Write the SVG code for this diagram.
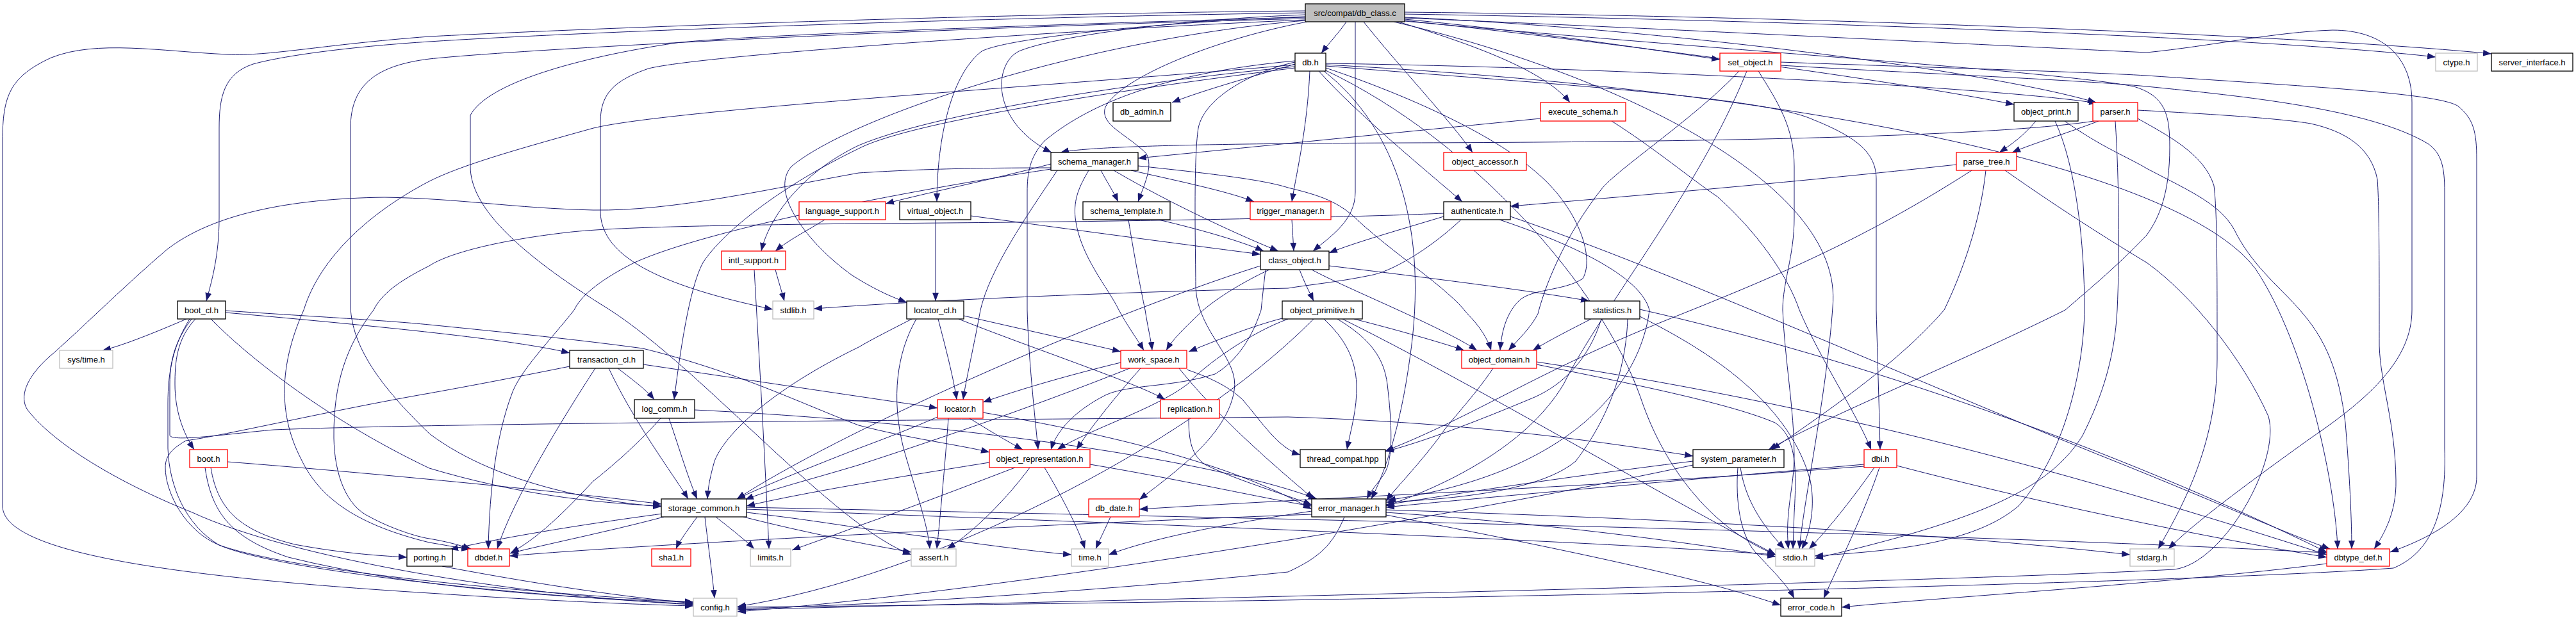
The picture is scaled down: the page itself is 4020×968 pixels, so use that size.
<svg xmlns="http://www.w3.org/2000/svg" width="4020" height="968" viewBox="0 0 4020 968">
<style>
.e path{fill:none;stroke:#191970;stroke-width:1;marker-end:url(#ah)}
.n rect{fill:#fff;stroke:#000;stroke-width:1.3}
.n.red rect{stroke:#ff0000}
.n.gry rect{stroke:#bfbfbf}
.n.root rect{fill:#bfbfbf}
.n text{font-family:"Liberation Sans",Arial,sans-serif;font-size:13px;text-anchor:middle;fill:#000}
</style>
<defs>
<marker id="ah" viewBox="0 0 10 10" refX="10" refY="5" markerUnits="userSpaceOnUse" markerWidth="13" markerHeight="10" orient="auto" preserveAspectRatio="none"><path d="M0,0L10,5L0,10z" fill="#191970"/></marker>
</defs>
<rect width="4020" height="968" fill="#fff"/>
<g id="edges" class="e">
<path d="M2101,34 C2092,48 2075,66 2062,83"/>
<path d="M2192,30 C2400,50 2580,78 2684,93"/>
<path d="M2192,22 C2700,30 3500,55 3801,89"/>
<path d="M2192,19 C2800,25 3600,55 3888,84"/>
<path d="M2182,34 C2300,70 2410,110 2450,160"/>
<path d="M2192,32 C2550,70 2950,125 3143,163"/>
<path d="M2192,27 C2600,45 3100,110 3271,160"/>
<path d="M2128,34 C2180,100 2265,190 2298,238"/>
<path d="M2115,34 L2115,300 C2115,345 2075,370 2049,392"/>
<path d="M2037,23 C1850,30 1650,55 1590,80 C1550,100 1545,190 1641,238"/>
<path d="M2040,34 C1900,60 1750,120 1725,167 C1715,195 1760,210 1789,240 C1800,260 1785,290 1776,315"/>
<path d="M2037,26 C1800,35 1570,60 1532,80 C1480,120 1462,230 1462,315"/>
<path d="M2037,20 C1500,28 900,50 670,65 C560,72 450,85 395,100 C350,115 342,150 342,200 L342,340 C342,400 330,440 322,470"/>
<path d="M2037,17 C1500,22 900,45 670,57 C500,70 420,88 355,85 C250,80 150,62 80,90 C15,120 4,150 4,220 L4,790 C4,860 250,900 670,926 C850,938 1000,944 1082,946"/>
<path d="M2037,29 C1400,45 800,78 670,92 C590,102 547,130 547,200 L547,480 C550,540 590,600 670,677 C780,760 950,785 1032,791"/>
<path d="M2037,31 C1700,45 1100,85 1012,107 C960,125 937,145 937,190 L937,333 C940,390 1000,440 1206,483"/>
<path d="M2037,27 C1700,36 1150,55 1055,67 C900,90 760,130 734,180 L734,260 C734,320 800,390 952,484 C1100,580 1300,820 1422,866"/>
<path d="M2192,28 C2600,45 3100,70 3350,82 C3450,72 3550,50 3640,47 C3720,47 3764,90 3764,160 L3764,484 C3764,560 3700,620 3606,684 C3500,760 3420,820 3384,857"/>
<path d="M2175,34 C2500,110 2880,280 2860,480 C2850,620 2815,780 2808,857"/>
<path d="M2192,33 C2700,80 3200,110 3330,135 C3380,150 3386,180 3386,230 C3386,300 3370,340 3350,367 C3300,420 3250,460 3223,484 C3050,570 2850,650 2760,702"/>
<path d="M2037,32 C1700,60 1330,180 1235,260 C1200,300 1260,380 1330,430 C1370,455 1395,465 1415,472"/>
<path d="M2021,100 C1960,118 1880,140 1829,160"/>
<path d="M2069,99 C2500,105 3100,135 3273,161"/>
<path d="M2044,111 C2040,200 2025,260 2016,315"/>
<path d="M2058,111 C2120,180 2230,270 2282,315"/>
<path d="M2021,104 C1750,130 1450,180 1340,227 C1250,270 1200,340 1188,392"/>
<path d="M2021,106 C1750,140 1420,190 1340,232 C1220,290 1130,360 1097,410 C1075,450 1060,560 1052,624"/>
<path d="M2021,95 C1800,115 1690,170 1630,220 C1607,245 1603,270 1603,300 L1603,484 C1605,560 1615,650 1620,702"/>
<path d="M2069,106 C2200,150 2330,210 2395,267 C2460,320 2490,400 2470,435 C2440,455 2390,450 2370,470 C2350,490 2343,520 2341,547"/>
<path d="M2069,103 C2400,130 2750,150 2830,187 C2900,215 2928,240 2928,280 L2928,484 C2930,560 2933,650 2934,702"/>
<path d="M2021,97 C1960,110 1880,150 1870,200 C1862,250 1866,400 1866,450 C1870,520 1935,560 1926,610 C1915,680 1830,740 1778,780"/>
<path d="M2066,111 C2180,200 2230,360 2200,560 C2185,670 2160,740 2140,779"/>
<path d="M2021,101 C1700,130 1050,170 926,200 C800,235 720,258 670,283 C580,330 500,400 474,484 C440,560 430,640 470,717 C500,780 560,820 670,847 C700,852 715,855 733,858"/>
<path d="M2069,110 C2300,220 2500,450 2560,620 C2600,740 2680,830 2771,866"/>
<path d="M2069,101 C2800,140 3400,260 3520,420 C3600,540 3645,760 3648,857"/>
<path d="M2714,111 C2650,180 2530,260 2501,293 C2440,370 2410,450 2400,490 C2390,510 2370,530 2354,547"/>
<path d="M2726,111 C2650,300 2500,480 2440,600 C2380,700 2250,760 2163,790"/>
<path d="M2779,102 C3000,115 3250,125 3350,135 C3500,150 3700,170 3790,225 C3810,240 3815,260 3815,300 L3815,700 C3818,790 3800,860 3735,887 C3500,905 2500,935 1151,948"/>
<path d="M2779,97 C3000,105 3250,112 3350,118 C3600,135 3800,145 3835,165 C3860,185 3865,205 3865,250 L3865,744 C3865,790 3820,830 3730,862"/>
<path d="M2744,111 C2775,160 2800,200 2800,260 L2800,340 C2800,400 2782,440 2782,484 C2785,560 2800,640 2800,711 C2800,760 2785,800 2791,857"/>
<path d="M2404,185 C2200,205 1900,235 1776,247"/>
<path d="M2515,189 C2580,230 2640,280 2680,307 C2740,360 2790,430 2808,484 C2840,560 2900,650 2920,702"/>
<path d="M3177,189 C3160,210 3140,225 3120,238"/>
<path d="M3207,189 C3240,260 3253,380 3253,484 C3252,560 3230,700 3150,790 C3080,850 2950,860 2832,868"/>
<path d="M3222,189 C3280,230 3320,245 3350,263 C3420,300 3470,320 3491,367 C3520,420 3560,450 3589,484 C3630,530 3650,580 3660,660 C3665,720 3670,800 3670,857"/>
<path d="M3268,189 C3100,215 2600,222 2200,223 C1900,224 1700,228 1655,238"/>
<path d="M3275,189 C3220,210 3170,225 3140,238"/>
<path d="M3301,189 C3307,280 3308,400 3304,484 C3300,560 3280,620 3250,680 C3200,760 3100,810 2832,872"/>
<path d="M3336,172 C3450,178 3560,185 3606,193 C3660,205 3700,230 3710,280 C3713,320 3713,420 3713,540 C3715,600 3738,660 3739,750 C3740,800 3720,835 3705,857"/>
<path d="M3336,185 C3380,210 3440,240 3455,290 C3460,330 3460,420 3460,560 C3460,700 3400,800 3368,857"/>
<path d="M3053,257 C2800,285 2500,310 2357,322"/>
<path d="M3099,266 C3090,350 3060,430 3034,484 C2960,570 2840,650 2765,702"/>
<path d="M3129,266 C3220,330 3300,380 3350,410 C3420,460 3500,560 3540,650 C3560,720 3470,880 3393,889 C3000,910 1800,935 1151,952"/>
<path d="M3077,266 C2900,380 2750,440 2600,500 C2400,580 2300,650 2162,704"/>
<path d="M1640,256 C1550,280 1450,300 1382,318"/>
<path d="M1718,266 C1728,285 1738,300 1745,315"/>
<path d="M1765,266 C1850,285 1920,300 1957,315"/>
<path d="M1738,266 C1830,320 1940,370 1995,392"/>
<path d="M1640,262 C1500,262 1420,265 1340,270 C1200,295 1050,330 926,328 C800,325 720,310 600,308 C450,310 330,335 260,390 C190,450 120,520 77,557 C40,590 30,620 43,640 C90,700 200,760 300,800 C450,870 800,930 1082,944"/>
<path d="M1776,259 C1880,270 1970,280 2010,293 C2060,305 2090,315 2120,345 C2180,400 2260,450 2290,490 C2310,510 2322,530 2327,547"/>
<path d="M1699,266 C1685,290 1675,310 1678,340 C1685,400 1730,450 1746,484 C1760,510 1775,530 1785,547"/>
<path d="M1650,266 C1600,340 1545,420 1530,484 C1520,540 1508,590 1503,624"/>
<path d="M1640,264 C1400,300 1100,360 990,410 C930,440 905,465 896,484 C860,530 810,580 798,617 C775,680 764,760 762,857"/>
<path d="M1287,343 C1260,360 1230,375 1210,392"/>
<path d="M1460,343 L1460,470"/>
<path d="M1515,337 C1700,362 1850,382 1967,397"/>
<path d="M1808,343 C1880,360 1940,378 1972,392"/>
<path d="M1761,343 C1770,400 1780,450 1787,484 C1791,510 1796,530 1798,547"/>
<path d="M2016,343 C2017,360 2018,375 2019,392"/>
<path d="M2253,338 C2180,360 2110,380 2074,395"/>
<path d="M2280,343 C2230,390 2170,425 2138,430 C2090,440 2040,445 2010,450 C1800,455 1500,465 1270,482"/>
<path d="M2253,333 C2100,340 1700,347 1340,349 C1100,352 950,355 884,363 C780,375 700,395 670,415 C620,440 595,460 583,484 C540,540 520,600 521,684 C522,740 540,790 577,807 C610,825 650,838 670,841 C700,846 720,852 735,857"/>
<path d="M2357,338 C2600,420 3000,600 3300,720 C3450,780 3560,830 3636,857"/>
<path d="M2340,343 C2450,380 2560,430 2574,484 C2560,600 2450,740 2165,781"/>
<path d="M1210,421 C1215,440 1220,455 1224,470"/>
<path d="M1177,421 C1185,560 1195,740 1200,857"/>
<path d="M2028,421 C2035,440 2043,455 2050,470"/>
<path d="M2074,415 C2200,430 2400,455 2480,470"/>
<path d="M2047,421 C2100,450 2250,510 2305,547"/>
<path d="M1981,421 C1940,440 1900,465 1878,484 C1850,510 1830,530 1820,547"/>
<path d="M1975,421 C1972,445 1970,465 1968,484 C1950,540 1920,570 1896,584 C1830,605 1760,600 1725,617 C1680,640 1650,670 1640,702"/>
<path d="M1967,415 C1700,500 1300,680 1150,779"/>
<path d="M291,498 C240,520 190,540 160,547"/>
<path d="M305,498 C275,530 273,567 273,600 C273,640 285,675 303,702"/>
<path d="M352,488 C600,510 800,530 889,551"/>
<path d="M329,498 C380,550 500,650 670,731 C800,770 920,785 1032,790"/>
<path d="M299,498 C275,530 265,560 265,600 L265,680 C270,690 350,678 427,671 C700,660 1500,656 2010,651 C2300,660 2500,690 2642,712"/>
<path d="M352,485 C500,495 600,500 670,507 C800,520 900,530 1003,544 C1150,580 1250,630 1340,664 C1420,685 1500,695 1544,706"/>
<path d="M296,498 C270,540 262,580 262,630 L262,700 C264,760 290,820 342,851 C430,890 800,930 1082,943"/>
<path d="M964,575 C990,595 1010,610 1021,624"/>
<path d="M950,575 C990,660 1050,740 1074,779"/>
<path d="M929,575 C880,650 800,780 776,857"/>
<path d="M1004,569 C1200,598 1380,625 1463,637"/>
<path d="M889,572 C800,590 720,605 670,614 C520,640 350,680 290,688 C270,700 258,710 258,730 C258,770 290,830 342,851 C450,890 800,925 1082,940"/>
<path d="M1044,653 C1060,700 1075,750 1088,779"/>
<path d="M1031,653 C990,700 940,740 926,751 C880,800 840,840 797,863"/>
<path d="M1084,640 C1500,660 1900,720 2055,779"/>
<path d="M1504,493 C1600,515 1690,535 1749,549"/>
<path d="M1464,498 C1475,540 1488,590 1493,624"/>
<path d="M1496,498 C1600,540 1780,600 1818,624"/>
<path d="M1423,498 C1390,515 1360,530 1340,542 C1200,610 1130,680 1115,720 C1108,745 1105,760 1104,779"/>
<path d="M1430,498 C1400,550 1390,620 1410,700 C1430,770 1448,820 1451,857"/>
<path d="M2001,497 C1950,510 1890,535 1855,549"/>
<path d="M2113,498 C2180,515 2250,535 2285,547"/>
<path d="M2066,498 C2100,530 2115,560 2117,600 C2118,640 2108,670 2102,702"/>
<path d="M2087,498 C2140,530 2160,560 2165,600 C2172,660 2175,717 2160,740 C2150,755 2140,765 2133,779"/>
<path d="M2010,498 C1950,520 1880,570 1853,600 C1800,640 1700,670 1650,702"/>
<path d="M2095,498 C2300,600 2550,750 2771,866"/>
<path d="M2050,498 C1850,700 1450,900 1151,947"/>
<path d="M2483,498 C2450,515 2420,530 2392,547"/>
<path d="M2499,498 C2480,560 2440,600 2395,620 C2300,660 2220,690 2162,705"/>
<path d="M2540,498 C2538,560 2520,640 2459,720 C2400,770 2250,780 2163,784"/>
<path d="M2559,483 C2900,560 3300,700 3631,862"/>
<path d="M2559,494 C2650,540 2790,620 2825,750 C2835,800 2820,840 2812,857"/>
<path d="M1749,566 C1650,590 1580,612 1534,628"/>
<path d="M1763,575 C1600,640 1450,690 1340,726 C1260,750 1200,765 1163,780"/>
<path d="M1852,577 C1890,590 1920,605 1940,625 C1970,660 1995,700 2029,710"/>
<path d="M1840,575 C1900,650 1980,720 2050,779"/>
<path d="M1780,575 C1740,620 1700,670 1680,702"/>
<path d="M2398,569 C2550,600 2700,630 2770,660 C2800,680 2805,720 2800,800 L2798,857"/>
<path d="M2330,575 C2300,620 2260,660 2245,684 C2210,730 2180,760 2163,782"/>
<path d="M2398,565 C2900,640 3300,760 3631,866"/>
<path d="M1513,653 C1540,670 1570,688 1596,702"/>
<path d="M1463,651 C1420,670 1380,685 1340,700 C1250,735 1190,760 1150,779"/>
<path d="M1480,653 C1475,720 1468,800 1462,857"/>
<path d="M1534,644 C1800,690 1950,740 2047,795"/>
<path d="M1855,653 C1855,690 1860,710 1880,725 C1930,750 2000,770 2047,788"/>
<path d="M355,721 C600,740 900,770 1032,787"/>
<path d="M329,730 C340,800 380,830 460,850 C540,865 600,868 635,870"/>
<path d="M320,730 C330,800 360,840 450,870 C650,920 900,935 1082,940"/>
<path d="M1607,730 C1570,780 1520,830 1478,857"/>
<path d="M1630,730 C1660,780 1685,830 1693,857"/>
<path d="M1584,730 C1480,770 1400,800 1340,821 C1290,840 1260,850 1236,859"/>
<path d="M1544,722 C1400,745 1250,770 1165,790"/>
<path d="M1701,725 C1850,750 1980,780 2047,790"/>
<path d="M2712,730 C2708,780 2715,840 2744,867 C2770,895 2790,915 2800,934"/>
<path d="M2716,730 C2725,790 2760,830 2785,857"/>
<path d="M2642,720 C2400,750 2250,775 2163,788"/>
<path d="M2642,726 C2300,800 1600,920 1151,955"/>
<path d="M2925,730 C2890,780 2850,830 2823,857"/>
<path d="M2933,730 C2910,800 2870,880 2846,934"/>
<path d="M2909,728 C2500,760 2100,775 1778,795"/>
<path d="M2960,727 C3200,790 3450,840 3631,870"/>
<path d="M2909,725 C2600,752 2300,778 2163,792"/>
<path d="M1034,802 C900,820 780,840 702,858"/>
<path d="M1036,807 C950,830 850,850 796,864"/>
<path d="M1088,807 C1075,825 1060,845 1055,857"/>
<path d="M1117,807 C1140,825 1165,845 1177,857"/>
<path d="M1100,807 C1105,850 1112,900 1115,934"/>
<path d="M1165,800 C1250,810 1300,818 1340,824 C1500,845 1600,860 1672,866"/>
<path d="M1165,795 C1700,815 2400,840 2771,866"/>
<path d="M1165,792 C2000,810 3000,830 3631,863"/>
<path d="M1160,807 C1250,830 1350,850 1422,862"/>
<path d="M1733,807 C1725,825 1715,845 1710,857"/>
<path d="M2163,796 C2600,810 3000,830 3324,866"/>
<path d="M2163,804 C2400,850 2650,900 2779,945"/>
<path d="M2163,800 C2450,820 2650,850 2771,869"/>
<path d="M2098,807 C2080,850 2060,870 2010,893 C1800,915 1400,945 1151,950"/>
<path d="M2047,798 C1900,820 1800,840 1730,866"/>
<path d="M2047,803 C1600,820 1000,850 795,868"/>
<path d="M3631,880 C3400,910 3000,935 2874,948"/>
<path d="M690,884 C800,905 950,930 1082,942"/>
</g>
<g id="n1" class="n root"><rect x="2037" y="6" width="155" height="28"/><text x="2114.5" y="25">src/compat/db_class.c</text></g>
<g id="n2" class="n"><rect x="2021" y="83" width="48" height="28"/><text x="2045" y="102">db.h</text></g>
<g id="n3" class="n red"><rect x="2684" y="83" width="95" height="28"/><text x="2731.5" y="102">set_object.h</text></g>
<g id="n4" class="n gry"><rect x="3801" y="83" width="65" height="28"/><text x="3833.5" y="102">ctype.h</text></g>
<g id="n5" class="n"><rect x="3888" y="83" width="127" height="28"/><text x="3951.5" y="102">server_interface.h</text></g>
<g id="n6" class="n"><rect x="1737" y="160" width="90" height="29"/><text x="1782" y="179">db_admin.h</text></g>
<g id="n7" class="n red"><rect x="2404" y="160" width="133" height="29"/><text x="2470.5" y="179">execute_schema.h</text></g>
<g id="n8" class="n"><rect x="3143" y="160" width="100" height="29"/><text x="3193" y="179">object_print.h</text></g>
<g id="n9" class="n red"><rect x="3266" y="160" width="70" height="29"/><text x="3301" y="179">parser.h</text></g>
<g id="n10" class="n"><rect x="1640" y="238" width="136" height="28"/><text x="1708" y="257">schema_manager.h</text></g>
<g id="n11" class="n red"><rect x="2253" y="238" width="129" height="28"/><text x="2317.5" y="257">object_accessor.h</text></g>
<g id="n12" class="n red"><rect x="3053" y="238" width="94" height="28"/><text x="3100" y="257">parse_tree.h</text></g>
<g id="n13" class="n red"><rect x="1247" y="315" width="135" height="28"/><text x="1314.5" y="334">language_support.h</text></g>
<g id="n14" class="n"><rect x="1404" y="315" width="111" height="28"/><text x="1459.5" y="334">virtual_object.h</text></g>
<g id="n15" class="n"><rect x="1690" y="315" width="136" height="28"/><text x="1758" y="334">schema_template.h</text></g>
<g id="n16" class="n red"><rect x="1951" y="315" width="126" height="28"/><text x="2014" y="334">trigger_manager.h</text></g>
<g id="n17" class="n"><rect x="2253" y="315" width="104" height="28"/><text x="2305" y="334">authenticate.h</text></g>
<g id="n18" class="n red"><rect x="1126" y="392" width="100" height="29"/><text x="1176" y="411">intl_support.h</text></g>
<g id="n19" class="n"><rect x="1967" y="392" width="107" height="29"/><text x="2020.5" y="411">class_object.h</text></g>
<g id="n20" class="n"><rect x="277" y="470" width="75" height="28"/><text x="314.5" y="489">boot_cl.h</text></g>
<g id="n21" class="n gry"><rect x="1206" y="470" width="64" height="28"/><text x="1238" y="489">stdlib.h</text></g>
<g id="n22" class="n"><rect x="1415" y="470" width="89" height="28"/><text x="1459.5" y="489">locator_cl.h</text></g>
<g id="n23" class="n"><rect x="2001" y="470" width="125" height="28"/><text x="2063.5" y="489">object_primitive.h</text></g>
<g id="n24" class="n"><rect x="2473" y="470" width="86" height="28"/><text x="2516" y="489">statistics.h</text></g>
<g id="n25" class="n gry"><rect x="93" y="547" width="83" height="28"/><text x="134.5" y="566">sys/time.h</text></g>
<g id="n26" class="n"><rect x="889" y="547" width="115" height="28"/><text x="946.5" y="566">transaction_cl.h</text></g>
<g id="n27" class="n red"><rect x="1749" y="547" width="103" height="28"/><text x="1800.5" y="566">work_space.h</text></g>
<g id="n28" class="n red"><rect x="2281" y="547" width="117" height="28"/><text x="2339.5" y="566">object_domain.h</text></g>
<g id="n29" class="n"><rect x="990" y="624" width="94" height="29"/><text x="1037" y="643">log_comm.h</text></g>
<g id="n30" class="n red"><rect x="1463" y="624" width="71" height="29"/><text x="1498.5" y="643">locator.h</text></g>
<g id="n31" class="n red"><rect x="1811" y="624" width="92" height="29"/><text x="1857" y="643">replication.h</text></g>
<g id="n32" class="n red"><rect x="296" y="702" width="59" height="28"/><text x="325.5" y="721">boot.h</text></g>
<g id="n33" class="n red"><rect x="1544" y="702" width="157" height="28"/><text x="1622.5" y="721">object_representation.h</text></g>
<g id="n34" class="n"><rect x="2029" y="702" width="133" height="28"/><text x="2095.5" y="721">thread_compat.hpp</text></g>
<g id="n35" class="n"><rect x="2642" y="702" width="142" height="28"/><text x="2713" y="721">system_parameter.h</text></g>
<g id="n36" class="n red"><rect x="2909" y="702" width="51" height="28"/><text x="2934.5" y="721">dbi.h</text></g>
<g id="n37" class="n"><rect x="1032" y="779" width="133" height="28"/><text x="1098.5" y="798">storage_common.h</text></g>
<g id="n38" class="n red"><rect x="1699" y="779" width="79" height="28"/><text x="1738.5" y="798">db_date.h</text></g>
<g id="n39" class="n"><rect x="2047" y="779" width="116" height="28"/><text x="2105" y="798">error_manager.h</text></g>
<g id="n40" class="n"><rect x="635" y="857" width="71" height="27"/><text x="670.5" y="875">porting.h</text></g>
<g id="n41" class="n red"><rect x="730" y="857" width="65" height="27"/><text x="762.5" y="875">dbdef.h</text></g>
<g id="n42" class="n red"><rect x="1017" y="857" width="61" height="27"/><text x="1047.5" y="875">sha1.h</text></g>
<g id="n43" class="n gry"><rect x="1171" y="857" width="63" height="27"/><text x="1202.5" y="875">limits.h</text></g>
<g id="n44" class="n gry"><rect x="1422" y="857" width="70" height="27"/><text x="1457" y="875">assert.h</text></g>
<g id="n45" class="n gry"><rect x="1672" y="857" width="58" height="27"/><text x="1701" y="875">time.h</text></g>
<g id="n46" class="n gry"><rect x="2771" y="857" width="61" height="27"/><text x="2801.5" y="875">stdio.h</text></g>
<g id="n47" class="n gry"><rect x="3324" y="857" width="69" height="27"/><text x="3358.5" y="875">stdarg.h</text></g>
<g id="n48" class="n red"><rect x="3631" y="857" width="98" height="27"/><text x="3680" y="875">dbtype_def.h</text></g>
<g id="n49" class="n gry"><rect x="1082" y="934" width="68" height="28"/><text x="1116" y="953">config.h</text></g>
<g id="n50" class="n"><rect x="2779" y="934" width="95" height="28"/><text x="2826.5" y="953">error_code.h</text></g>
</svg>
